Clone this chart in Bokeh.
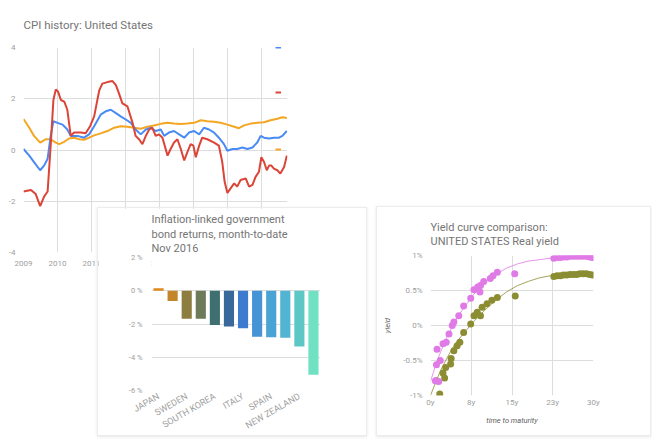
import math
from bokeh.plotting import figure
from bokeh.models import (ColumnDataSource, FixedTicker, Legend, LegendItem, Range1d)
from bokeh.embed import file_html
from bokeh.resources import INLINE

FONT = "Roboto"
TITLE_C = "#757575"
LABEL_C = "#9e9e9e"
GRID_C = "#dddddd"

# ---------------- Chart 1: CPI history ----------------
cpi_title = "CPI history: United States"
cpi_year_ticks = [2009, 2010, 2011, 2012, 2013, 2014, 2015, 2016]
cpi_year_labels = ["2009", "2010", "2011", "2012", "2013", "2014", "2015", "2016"]
cpi_value_ticks = [-4, -2, 0, 2, 4]
cpi_value_labels = ["-4", "-2", "0", "2", "4"]

blue_t = [2009.00, 2009.17, 2009.31, 2009.49, 2009.61, 2009.71, 2009.80, 2009.88,
          2010.00, 2010.15, 2010.29, 2010.39, 2010.59, 2010.78, 2010.93,
          2011.08, 2011.27, 2011.42, 2011.57, 2011.72, 2011.86,
          2012.01, 2012.16, 2012.30, 2012.45, 2012.60, 2012.75, 2012.89,
          2013.04, 2013.14, 2013.28, 2013.43, 2013.58, 2013.73, 2013.87,
          2014.02, 2014.17, 2014.31, 2014.46, 2014.61, 2014.75, 2014.90,
          2015.00, 2015.15, 2015.29, 2015.44, 2015.59, 2015.74, 2015.88, 2015.98,
          2016.08, 2016.23, 2016.37, 2016.52, 2016.62, 2016.75]
blue_v = [0.04, -0.22, -0.47, -0.79, -0.60, -0.34, 0.55, 1.12,
          1.06, 0.99, 0.80, 0.55, 0.55, 0.48, 0.61,
          0.93, 1.38, 1.51, 1.57, 1.44, 1.31,
          1.19, 1.06, 0.80, 0.61, 0.80, 0.87, 0.74,
          0.80, 0.55, 0.68, 0.74, 0.61, 0.48, 0.68,
          0.74, 0.61, 0.87, 0.80, 0.68, 0.48, 0.23,
          -0.03, 0.04, 0.04, 0.10, 0.04, 0.10, 0.29, 0.55,
          0.48, 0.45, 0.48, 0.48, 0.55, 0.74]

red_t = [2009.00, 2009.22, 2009.36, 2009.49, 2009.61, 2009.71, 2009.80, 2009.88, 2009.95,
         2010.02, 2010.10, 2010.20, 2010.29, 2010.39, 2010.49, 2010.69, 2010.83, 2010.96,
         2011.08, 2011.23, 2011.32, 2011.47, 2011.62, 2011.72, 2011.81, 2011.91,
         2012.06, 2012.21, 2012.30, 2012.40, 2012.50, 2012.60, 2012.70, 2012.79, 2012.89, 2012.99,
         2013.09, 2013.24, 2013.33, 2013.43, 2013.53, 2013.63, 2013.73, 2013.82, 2013.92,
         2014.00, 2014.07, 2014.17, 2014.26, 2014.41, 2014.61, 2014.75, 2014.85, 2014.92,
         2015.00, 2015.10, 2015.20, 2015.29, 2015.39, 2015.54, 2015.64, 2015.74, 2015.83, 2015.93,
         2016.00, 2016.08, 2016.16, 2016.23, 2016.29, 2016.37, 2016.47, 2016.56, 2016.67, 2016.75]
red_v = [-1.62, -1.56, -1.72, -2.19, -1.81, -1.62, 0.17, 1.95, 2.36,
         2.27, 1.95, 1.89, 1.57, 0.55, 0.68, 0.68, 0.65, 0.93,
         1.31, 2.33, 2.59, 2.65, 2.69, 2.53, 2.21, 1.82,
         1.70, 1.06, 0.55, 0.42, 0.23, 0.55, 0.80, 0.87, 0.55, 0.61,
         0.48, -0.22, 0.04, 0.29, 0.42, 0.04, -0.41, -0.09, 0.23,
         0.17, -0.28, 0.17, 0.48, 0.42, 0.29, 0.17, -0.47, -1.24,
         -1.68, -1.49, -1.30, -1.43, -1.17, -1.11, -1.43, -1.36, -1.05, -0.85,
         -0.28, -0.47, -0.79, -0.60, -0.60, -0.73, -0.79, -0.92, -0.66, -0.22]

orange_t = [2009.00, 2009.17, 2009.31, 2009.49, 2009.66, 2009.80, 2009.95,
            2010.05, 2010.20, 2010.34, 2010.49, 2010.64, 2010.78, 2010.93,
            2011.08, 2011.27, 2011.47, 2011.67, 2011.86,
            2012.06, 2012.25, 2012.45, 2012.65, 2012.84,
            2013.04, 2013.24, 2013.43, 2013.63, 2013.82,
            2014.02, 2014.22, 2014.41, 2014.61, 2014.80,
            2015.00, 2015.20, 2015.34, 2015.49, 2015.69, 2015.88,
            2016.08, 2016.27, 2016.47, 2016.62, 2016.75]
orange_v = [1.21, 0.87, 0.55, 0.29, 0.42, 0.42, 0.29,
            0.23, 0.32, 0.45, 0.48, 0.42, 0.40, 0.48,
            0.57, 0.65, 0.74, 0.87, 0.93,
            0.91, 0.87, 0.83, 0.91, 0.96,
            1.02, 1.06, 1.03, 1.01, 1.03,
            1.06, 1.16, 1.12, 1.10, 1.06,
            0.99, 0.91, 0.85, 0.96, 1.03, 1.06,
            1.08, 1.16, 1.22, 1.28, 1.25]

# ---------------- Chart 2: bond returns ----------------
bond_title = "Inflation-linked government\nbond returns, month-to-date\nNov 2016"
bond_countries = ["JAPAN", "GERMANY", "SWEDEN", "FRANCE", "SOUTH KOREA", "UNITED STATES",
                  "ITALY", "CANADA", "SPAIN", "UNITED KINGDOM", "NEW ZEALAND", "AUSTRALIA"]
bond_returns = [0.15, -0.61, -1.68, -1.68, -2.06, -2.15, -2.25, -2.76, -2.80, -2.82, -3.35, -5.05]
bond_colors = ["#dc8a1c", "#c3862a", "#8e7d40", "#6e7b5a", "#3f6f70", "#39699b",
               "#3c7bd0", "#4693d5", "#4aa3d5", "#53b3d2", "#5dc7c6", "#70e1c2"]
bond_shown = [0, 2, 4, 6, 8, 10]
bond_value_ticks = [-6, -4, -2, 0, 2]
bond_value_labels = ["-6 %", "-4 %", "-2 %", "0 %", "2 %"]

# ---------------- Chart 3: yield curve ----------------
yc_title = "Yield curve comparison:\nUNITED STATES Real yield"
yc_x_ticks = [0, 7.5, 15, 22.5, 30]
yc_x_labels = ["0y", "8y", "15y", "23y", "30y"]
yc_y_ticks = [-1, -0.5, 0, 0.5, 1]
yc_y_labels = ["-1%", "-0.5%", "0%", "0.5%", "1%"]

olive_x = [1.7, 1.1, 2.6, 2.3, 2.8, 3.7, 3.8, 4.3, 4.9, 5.4, 6.1, 7.4, 8.0, 8.6, 9.2, 9.5,
           10.4, 11.3, 12.3, 15.6,
           22.7, 23.3, 23.9, 24.5, 25.1, 25.7, 26.3, 26.9, 27.5, 28.1, 28.7, 29.3, 29.8]
olive_y = [-0.98, -0.79, -0.75, -0.68, -0.60, -0.55, -0.47, -0.36, -0.29, -0.24, -0.10, 0.02,
           0.14, 0.19, 0.14, 0.26, 0.31, 0.36, 0.40, 0.42,
           0.70, 0.71, 0.71, 0.72, 0.72, 0.73, 0.73, 0.73, 0.74, 0.74, 0.74, 0.73, 0.72]
pink_x = [0.9, 1.5, 1.1, 1.8, 1.2, 2.3, 2.9, 3.4, 4.0, 4.3, 5.2, 6.1, 7.4, 8.0, 8.7, 9.2, 9.1,
          9.8, 11.0, 11.5, 12.3, 15.5,
          22.7, 23.3, 23.9, 24.5, 25.1, 25.7, 26.3, 26.9, 27.5, 28.1, 28.7, 29.3, 29.8]
pink_y = [-0.79, -0.80, -0.56, -0.50, -0.34, -0.26, -0.24, -0.12, 0.00, 0.05, 0.14, 0.28, 0.39,
          0.51, 0.55, 0.57, 0.48, 0.63, 0.67, 0.71, 0.76, 0.74,
          0.96, 0.97, 0.97, 0.98, 0.98, 0.99, 0.99, 0.99, 0.99, 0.99, 0.99, 0.98, 0.97]
curve_x = [0, 1, 2, 3, 4, 5, 6, 8, 10, 12, 14, 16, 18, 20, 22, 24, 26, 28, 30]
olive_curve = [-1.0, -0.8, -0.62, -0.47, -0.33, -0.22, -0.12, 0.06, 0.22, 0.36, 0.48, 0.57,
               0.63, 0.68, 0.71, 0.73, 0.74, 0.75, 0.75]
pink_curve = [-0.8, -0.55, -0.35, -0.17, -0.02, 0.12, 0.24, 0.45, 0.62, 0.73, 0.82, 0.88,
              0.92, 0.94, 0.96, 0.98, 0.99, 1.0, 1.0]
yc_legend_labels = ["...", "...", "...", "..."]

BLUE, RED, ORANGE = "#4a8af4", "#db4437", "#f4a622"
OLIVE, PINK = "#8c8d33", "#e07ae6"


def style_axis(ax, size="8px"):
    ax.axis_line_color = None
    ax.major_tick_line_color = None
    ax.minor_tick_line_color = None
    ax.major_tick_out = 0
    ax.major_tick_in = 0
    ax.minor_tick_out = 0
    ax.minor_tick_in = 0
    ax.major_label_text_font = FONT
    ax.major_label_text_font_size = size
    ax.major_label_text_color = LABEL_C


def style_title(p, text, size="11.5px"):
    p.title.text = text
    p.title.text_font = FONT
    p.title.text_font_size = size
    p.title.text_font_style = "normal"
    p.title.text_color = TITLE_C
    p.title.align = "left"


# ---------- figure 1 ----------
p1 = figure(width=306, height=275, x_range=Range1d(2009, 2016.77), y_range=Range1d(-4, 4),
            output_backend="svg", toolbar_location=None,
            min_border_left=23, min_border_right=19, min_border_top=43, min_border_bottom=23)
style_title(p1, cpi_title)
p1.title.standoff = 31
p1.outline_line_color = None
p1.xaxis.ticker = FixedTicker(ticks=cpi_year_ticks)
p1.xaxis.major_label_overrides = dict(zip(cpi_year_ticks, cpi_year_labels))
p1.yaxis.ticker = FixedTicker(ticks=cpi_value_ticks)
p1.yaxis.major_label_overrides = dict(zip(cpi_value_ticks, cpi_value_labels))
style_axis(p1.xaxis, "8px")
style_axis(p1.yaxis, "8px")
p1.xaxis.major_label_standoff = 8
p1.yaxis.major_label_standoff = 8
p1.xgrid.ticker = FixedTicker(ticks=cpi_year_ticks)
p1.ygrid.ticker = FixedTicker(ticks=cpi_value_ticks)
p1.xgrid.grid_line_color = GRID_C
p1.ygrid.grid_line_color = GRID_C

r_orange = p1.line(orange_t, orange_v, line_color=ORANGE, line_width=2)
r_blue = p1.line(blue_t, blue_v, line_color=BLUE, line_width=2)
r_red = p1.line(red_t, red_v, line_color=RED, line_width=2)

# legend markers only: the series labels fall outside the cropped card
for rend, loc in [(r_blue, (252, 201)), (r_red, (252, 156)), (r_orange, (252, 99))]:
    lg = Legend(items=[LegendItem(label="\u200b", renderers=[rend])], location=loc,
                padding=0, margin=0, border_line_color=None, background_fill_alpha=0,
                glyph_width=6, glyph_height=8, label_standoff=5,
                label_text_font=FONT, label_text_font_size="8px", label_text_color=LABEL_C)
    p1.add_layout(lg, "center")
p1.styles = {"position": "absolute", "left": "0px", "top": "0px"}

# ---------- figure 2 ----------
p2 = figure(width=270, height=229, x_range=Range1d(-0.5, 11.5), y_range=Range1d(-6, 2),
            output_backend="svg", toolbar_location=None,
            min_border_left=53, min_border_right=48, min_border_top=47, min_border_bottom=44)
style_title(p2, bond_title, "11px")
p2.title.standoff = 5
p2.title.text_line_height = 1.1
p2.outline_line_color = None
src2 = ColumnDataSource(dict(x=list(range(len(bond_countries))), top=bond_returns,
                             color=bond_colors, name=bond_countries))
p2.vbar(x="x", top="top", bottom=0, width=0.72, fill_color="color", line_color=None, source=src2)
p2.xaxis.ticker = FixedTicker(ticks=bond_shown)
p2.xaxis.major_label_overrides = {i: bond_countries[i] for i in bond_shown}
p2.xaxis.major_label_orientation = math.pi / 6
p2.yaxis.ticker = FixedTicker(ticks=bond_value_ticks)
p2.yaxis.major_label_overrides = dict(zip(bond_value_ticks, bond_value_labels))
style_axis(p2.xaxis, "9px")
style_axis(p2.yaxis, "7.5px")
p2.xaxis.major_label_standoff = 5
p2.yaxis.major_label_standoff = 9
p2.xgrid.grid_line_color = None
p2.ygrid.ticker = FixedTicker(ticks=bond_value_ticks)
p2.ygrid.grid_line_color = GRID_C
p2.styles = {"position": "absolute", "left": "97px", "top": "207px",
             "border": "1px solid #ececec", "box-shadow": "0 1px 3px rgba(0,0,0,0.10)"}

# ---------- figure 3 ----------
p3 = figure(width=275, height=230, x_range=Range1d(0, 30), y_range=Range1d(-1, 1),
            output_backend="svg", toolbar_location=None,
            min_border_left=53, min_border_right=59, min_border_top=48, min_border_bottom=42)
style_title(p3, yc_title, "11px")
p3.title.standoff = 14
p3.title.text_line_height = 1.1
p3.outline_line_color = None
p3.xaxis.ticker = FixedTicker(ticks=yc_x_ticks)
p3.xaxis.major_label_overrides = dict(zip(yc_x_ticks, yc_x_labels))
p3.yaxis.ticker = FixedTicker(ticks=yc_y_ticks)
p3.yaxis.major_label_overrides = dict(zip(yc_y_ticks, yc_y_labels))
style_axis(p3.xaxis, "8px")
style_axis(p3.yaxis, "8px")
p3.xaxis.major_label_standoff = 2
p3.yaxis.major_label_standoff = 8
p3.xaxis.axis_label = "time to maturity"
p3.yaxis.axis_label = "yield"
for ax in (p3.xaxis, p3.yaxis):
    ax.axis_label_text_font = FONT
    ax.axis_label_text_font_size = "7.5px"
    ax.axis_label_text_font_style = "italic"
    ax.axis_label_text_color = "#616161"
p3.xaxis.axis_label_standoff = 6
p3.yaxis.axis_label_standoff = 8
p3.xgrid.ticker = FixedTicker(ticks=yc_x_ticks)
p3.ygrid.ticker = FixedTicker(ticks=yc_y_ticks)
p3.xgrid.grid_line_color = GRID_C
p3.ygrid.grid_line_color = GRID_C

p3.line(curve_x, pink_curve, line_color=PINK, line_width=1, line_alpha=0.8)
p3.line(curve_x, olive_curve, line_color=OLIVE, line_width=1, line_alpha=0.8)
s_olive = p3.scatter(olive_x, olive_y, size=7, fill_color=OLIVE, line_color=None)
s_pink = p3.scatter(pink_x, pink_y, size=7, fill_color=PINK, line_color=None)
empty = dict(left=[], right=[], top=[], bottom=[])
sw_olive = p3.quad(source=ColumnDataSource(empty), left="left", right="right", top="top",
                   bottom="bottom", fill_color=OLIVE, fill_alpha=0.6, line_color=None)
sw_pink = p3.quad(source=ColumnDataSource(dict(empty)), left="left", right="right", top="top",
                  bottom="bottom", fill_color=PINK, fill_alpha=0.55, line_color=None)
lg3 = Legend(items=[LegendItem(label=yc_legend_labels[0], renderers=[s_olive]),
                    LegendItem(label=yc_legend_labels[1], renderers=[sw_olive]),
                    LegendItem(label=yc_legend_labels[2], renderers=[s_pink]),
                    LegendItem(label=yc_legend_labels[3], renderers=[sw_pink])],
             location=(174, 87), padding=0, margin=0, spacing=5,
             border_line_color=None, background_fill_alpha=0,
             glyph_width=18, glyph_height=10, label_standoff=7,
             label_text_font=FONT, label_text_font_size="7px", label_text_color=LABEL_C)
p3.add_layout(lg3)
p3.styles = {"position": "absolute", "left": "376px", "top": "206px",
             "border": "1px solid #ececec", "box-shadow": "0 1px 3px rgba(0,0,0,0.10)"}

open("out.html", "w").write(file_html([p1, p2, p3], INLINE))
